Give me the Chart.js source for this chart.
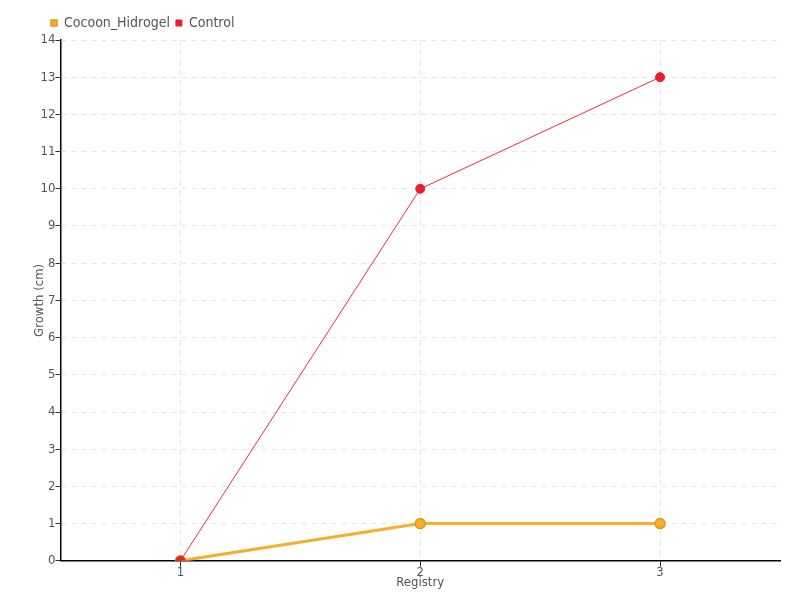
<!DOCTYPE html>
<html>
<head>
<meta charset="utf-8">
<script src="https://cdn.jsdelivr.net/npm/chart.js@4/dist/chart.umd.min.js"></script>
<style>
html,body{margin:0;padding:0;background:#fff;}
#wrap{width:800px;height:600px;}
</style>
</head>
<body>
<div id="wrap"><canvas id="c" width="800" height="600"></canvas></div>
<script>
const categories = ["1", "2", "3"];
const cocoonValues = [0, 1, 1];
const controlValues = [0, 10, 13];
const seriesNames = ["Cocoon_Hidrogel", "Control"];
const xTitle = "Registry";
const yTitle = "Growth (cm)";

const FONT = "'DejaVu Sans Condensed', 'DejaVu Sans', sans-serif";
Chart.defaults.font.family = FONT;
Chart.defaults.color = "#555";

new Chart(document.getElementById("c"), {
  type: "line",
  data: {
    labels: categories,
    datasets: [
      {
        label: seriesNames[0],
        data: cocoonValues,
        order: 1,
        borderColor: "#f7ae2c",
        backgroundColor: "#f7ae2c",
        borderWidth: 3,
        pointRadius: 5,
        pointBorderColor: "#e09a1c",
        pointBorderWidth: 1.5,
        pointBackgroundColor: "#f7ae2c",
        tension: 0
      },
      {
        label: seriesNames[1],
        data: controlValues,
        order: 0,
        borderColor: "#f0303c",
        backgroundColor: "#e8202a",
        borderWidth: 1,
        pointRadius: 4.5,
        pointBorderColor: "#e8202a",
        pointBackgroundColor: "#e8202a",
        tension: 0
      }
    ]
  },
  options: {
    responsive: false,
    animation: false,
    layout: { padding: { left: 32, right: 20, top: 10, bottom: 10 } },
    plugins: {
      legend: {
        position: "top",
        align: "start",
        labels: {
          usePointStyle: true,
          pointStyle: "rect",
          boxWidth: 6,
          boxHeight: 6,
          padding: 6,
          color: "#555",
          font: { size: 14, family: FONT },
          sort: (a, b) => a.datasetIndex - b.datasetIndex
        }
      },
      tooltip: { enabled: false }
    },
    scales: {
      x: {
        type: "category",
        offset: true,
        grid: {
          offset: false,
          color: "#e4e4e4",
          tickColor: "#333",
          tickLength: 6
        },
        border: { color: "#000", width: 1.5, dash: [5, 5] },
        ticks: { color: "#555", font: { size: 13 }, padding: -2 },
        title: { display: true, text: xTitle, color: "#555", font: { size: 13 }, padding: { top: -4, bottom: 0 } }
      },
      y: {
        min: 0,
        max: 14,
        ticks: { stepSize: 1, color: "#555", font: { size: 13 }, padding: 0 },
        grid: {
          color: "#e4e4e4",
          tickColor: "#333",
          tickLength: 5
        },
        border: { color: "#000", width: 1.5, dash: [5, 5] },
        title: { display: true, text: yTitle, color: "#555", font: { size: 13 }, padding: { top: 0, bottom: -7 } }
      }
    }
  },
  plugins: [{
    id: "legendShift",
    afterLayout(chart) {
      if (chart.legend) {
        chart.legend.left = 45;
      }
    }
  }]
});
</script>
</body>
</html>
